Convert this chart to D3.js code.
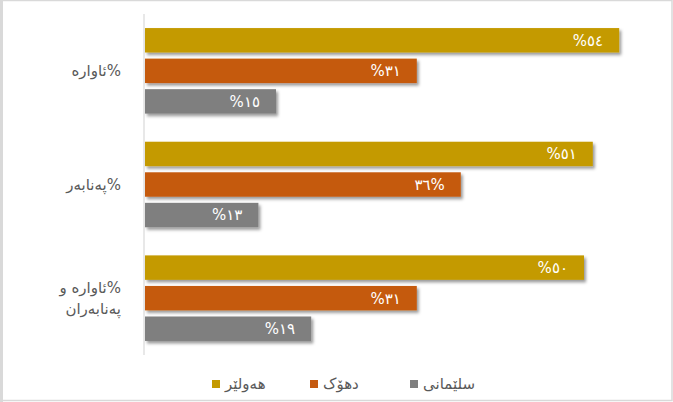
<!DOCTYPE html>
<html>
<head>
<meta charset="utf-8">
<script src="https://cdn.jsdelivr.net/npm/d3@7"></script>
<style>
  body { margin: 0; background: #fff; }
  svg { display: block; }
</style>
</head>
<body>
<div id="chart"></div>
<script>
// data
var categories = ["ئاوارە", "پەنابەر", "ئاوارە و پەنابەران"];
var catLabels = [
    ["ئاوارە%"],
    ["پەنابەر%"],
    ["ئاوارە و%", "پەنابەران"]
];
var seriesNames = ["هەولێر", "دهۆک", "سلێمانی"];
var erbil = [54, 51, 50];
var duhok = [31, 36, 31];
var sulaimani = [15, 13, 19];
var valueLabels = [
    ["%٥٤", "%٥١", "%٥٠"],
    ["%٣١", "٣٦%", "%٣١"],
    ["%١٥", "%١٣", "%١٩"]
];
var colors = ["#C49A00", "#C55A11", "#7F7F7F"];

var svgWidth = 673;
var svgHeight = 402;

var svg = d3.select("#chart")
    .append("svg")
    .attr("width", svgWidth)
    .attr("height", svgHeight);

// shadow for bars
var defs = svg.append("defs");
var filter = defs.append("filter").attr("id", "shadow")
    .attr("x", "-5%").attr("y", "-20%").attr("width", "115%").attr("height", "160%");
filter.append("feDropShadow")
    .attr("dx", 2).attr("dy", 2.5).attr("stdDeviation", 1.8)
    .attr("flood-color", "#000").attr("flood-opacity", 0.4);

// outer frame
svg.append("rect")
    .attr("x", 1.5).attr("y", 0.5)
    .attr("width", svgWidth - 2.5).attr("height", svgHeight - 2)
    .attr("fill", "none")
    .attr("stroke", "#D9D9D9")
    .attr("stroke-width", 1.5);
svg.append("rect")
    .attr("x", 0).attr("y", 0).attr("width", 3).attr("height", svgHeight)
    .attr("fill", "#D9D9D9");

var series = [erbil, duhok, sulaimani];

var x = d3.scaleLinear()
    .domain([0, 60])
    .range([144, 672]);

var y0 = d3.scaleBand()
    .domain(categories)
    .range([14, 355])
    .paddingInner(0)
    .paddingOuter(0);

var y1 = d3.scaleBand()
    .domain(seriesNames)
    .range([0, y0.bandwidth()])
    .paddingInner(0.2)
    .paddingOuter(0.46);

// vertical axis line
svg.append("line")
    .attr("x1", x(0)).attr("x2", x(0))
    .attr("y1", 14).attr("y2", 355)
    .attr("stroke", "#D9D9D9")
    .attr("stroke-width", 1.2);

var groups = svg.selectAll("g.cat")
    .data(categories)
    .enter()
    .append("g")
    .attr("class", "cat")
    .attr("transform", d => `translate(0, ${y0(d)})`);

groups.each(function(cat, ci) {
    var g = d3.select(this);
    seriesNames.forEach(function(name, si) {
        var v = series[si][ci];
        g.append("rect")
            .attr("x", x(0) + 1)
            .attr("y", y1(name))
            .attr("width", x(v) - x(0) - 1)
            .attr("height", y1.bandwidth())
            .attr("fill", colors[si])
            .attr("filter", "url(#shadow)");
        g.append("text")
            .attr("x", x(v) - 16)
            .attr("y", y1(name) + y1.bandwidth() / 2)
            .attr("dy", "0.36em")
            .attr("text-anchor", "end")
            .attr("fill", "#fff")
            .attr("font-family", "DejaVu Sans, sans-serif")
            .attr("font-size", "15px")
            .text(valueLabels[si][ci]);
    });
    // category label
    var lines = catLabels[ci];
    var cy = y0.bandwidth() / 2;
    var lh = 21;
    lines.forEach(function(line, li) {
        g.append("text")
            .attr("x", 121)
            .attr("y", cy + (li - (lines.length - 1) / 2) * lh)
            .attr("dy", "0.35em")
            .attr("text-anchor", "end")
            .attr("fill", "#595959")
            .attr("font-family", "DejaVu Sans, sans-serif")
            .attr("font-size", "15px")
            .text(line);
    });
});

// legend
var legendX = [212, 310, 410];
var legend = svg.append("g").attr("class", "legend");
seriesNames.forEach(function(name, i) {
    legend.append("rect")
        .attr("x", legendX[i]).attr("y", 380)
        .attr("width", 8).attr("height", 8)
        .attr("fill", colors[i]);
    legend.append("text")
        .attr("x", legendX[i] + 13)
        .attr("y", 384)
        .attr("dy", "0.35em")
        .attr("fill", "#595959")
        .attr("font-family", "DejaVu Sans, sans-serif")
        .attr("font-size", "15px")
        .text(name);
});
</script>
</body>
</html>
